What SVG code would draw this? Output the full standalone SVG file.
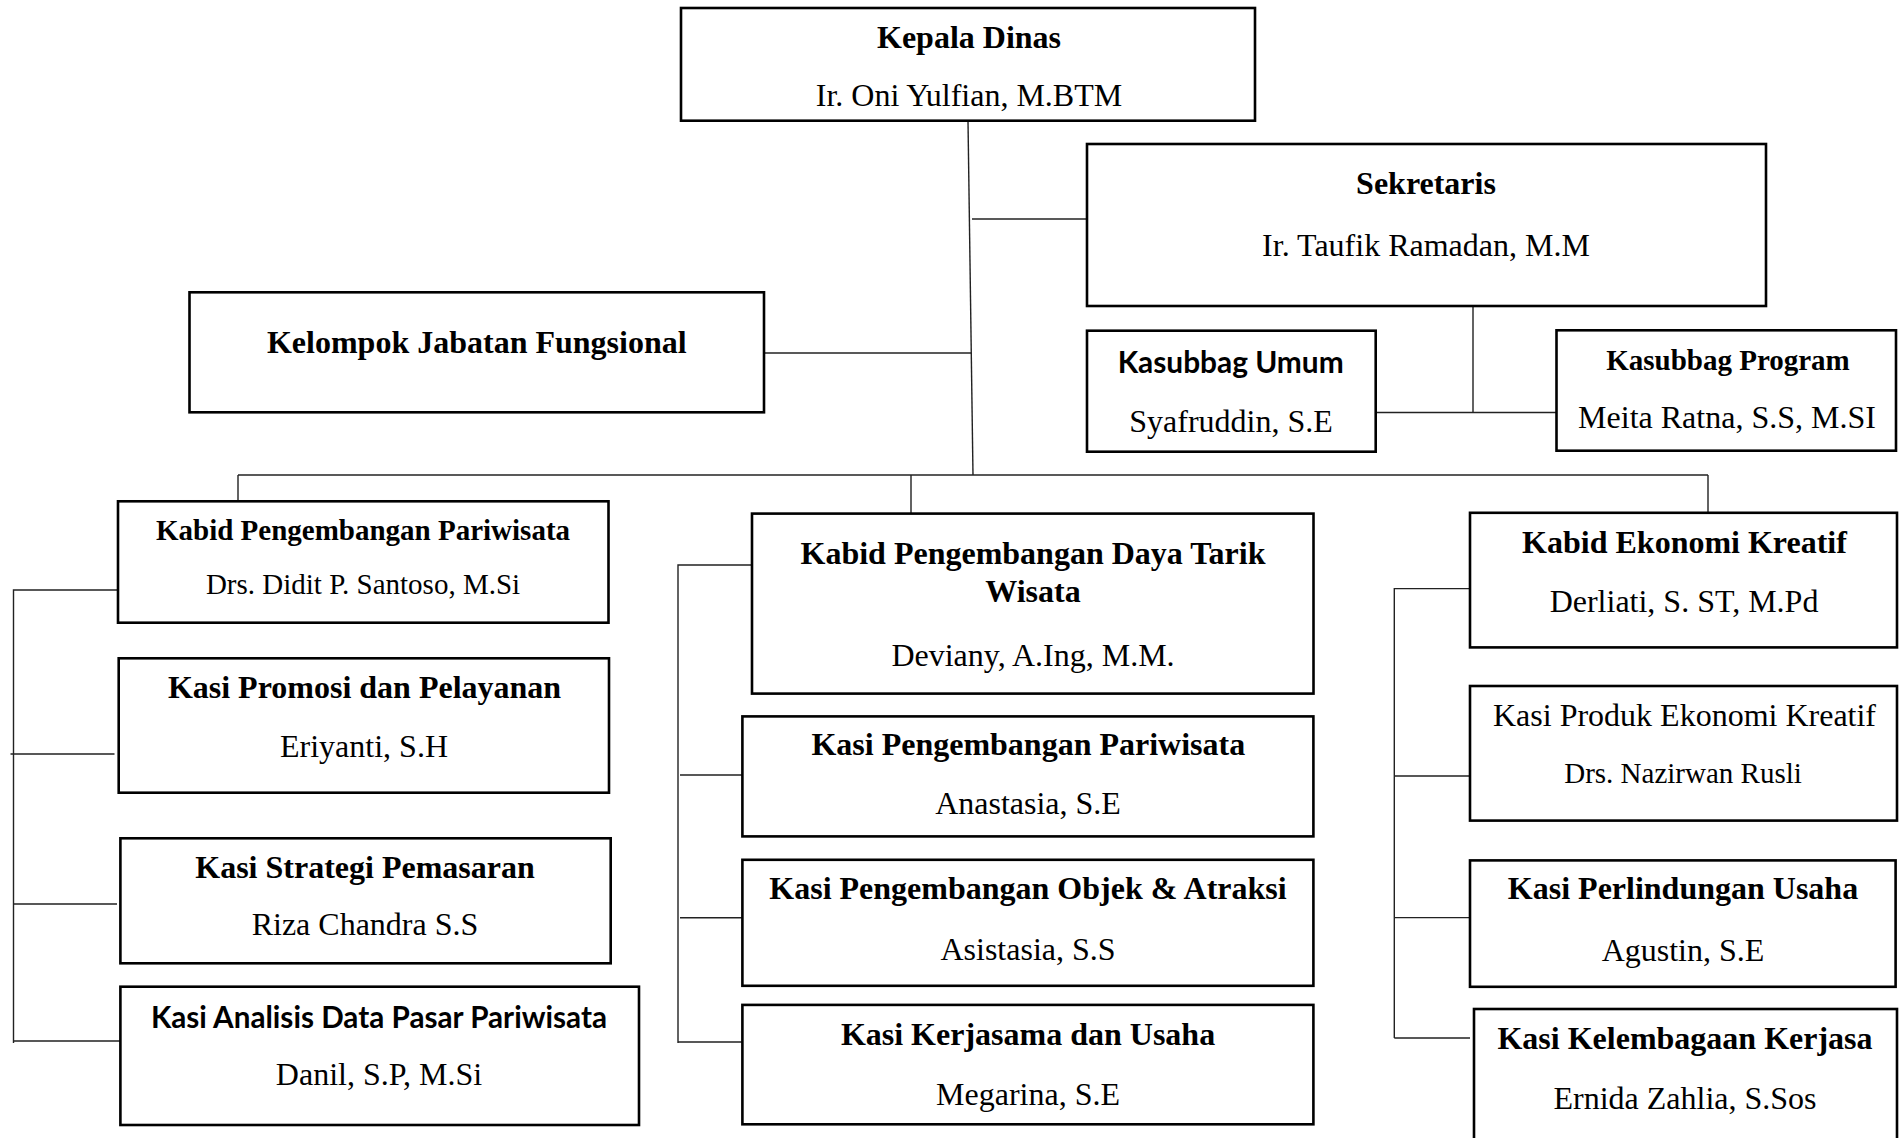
<svg xmlns="http://www.w3.org/2000/svg" width="1899" height="1138" viewBox="0 0 1899 1138">
<style>
.box{fill:#fff;stroke:#000;stroke-width:2.6}
.con{fill:none;stroke:#222;stroke-width:1.4}
.t{font-family:"Liberation Serif","Times New Roman",serif;font-weight:bold;font-size:32px;text-anchor:middle;fill:#000}
.n{font-family:"Liberation Serif","Times New Roman",serif;font-size:32px;text-anchor:middle;fill:#000}
.s{font-family:Lato,"Open Sans",sans-serif;font-weight:bold;font-size:30px;text-anchor:middle;fill:#000}
.sm{font-size:29px}
</style>
<rect width="1899" height="1138" fill="#fff"/>
<g id="connectors">
<path class="con" d="M968,121 L973,475"/>
<path class="con" d="M765,353 H971"/>
<path class="con" d="M972,219 H1087"/>
<path class="con" d="M238,475 H1708"/>
<path class="con" d="M238,475 V501 M911,475 V513 M1708,475 V513"/>
<path class="con" d="M1473,306 V412.5 M1376,412.5 H1556"/>
<path class="con" d="M118,590 H13.5 V1043 M10.5,754 H114.5 M13.5,904 H117 M13.5,1041 H120"/>
<path class="con" d="M752,565 H678 V1043 M680,775 H742 M680,917.7 H742 M678,1042 H742"/>
<path class="con" d="M1470,588.6 H1394.3 V1038 M1394.3,776 H1470 M1394.3,917.6 H1472 M1394.3,1038 H1470"/>
</g>
<g id="kepala-dinas">
<rect class="box" x="681" y="8" width="574" height="112.7"/>
<text class="t" x="969" y="48.3">Kepala Dinas</text>
<text class="n" x="969" y="106">Ir. Oni Yulfian, M.BTM</text>
</g>
<g id="sekretaris">
<rect class="box" x="1087" y="144" width="679" height="162"/>
<text class="t" x="1426" y="194">Sekretaris</text>
<text class="n" x="1426" y="256">Ir. Taufik Ramadan, M.M</text>
</g>
<g id="kelompok-jabatan-fungsional">
<rect class="box" x="189.5" y="292.3" width="574.5" height="120"/>
<text class="t" x="476.8" y="352.7">Kelompok Jabatan Fungsional</text>
</g>
<g id="kasubbag-umum">
<rect class="box" x="1087" y="330.7" width="288.7" height="121"/>
<text class="s" x="1230.7" y="373" textLength="226" lengthAdjust="spacingAndGlyphs">Kasubbag Umum</text>
<text class="n" x="1231" y="431.7">Syafruddin, S.E</text>
</g>
<g id="kasubbag-program">
<rect class="box" x="1556.5" y="330.3" width="339.5" height="120.4"/>
<text class="t sm" x="1728" y="370">Kasubbag Program</text>
<text class="n" x="1727" y="428.3">Meita Ratna, S.S, M.SI</text>
</g>
<g id="kabid-pengembangan-pariwisata">
<rect class="box" x="118" y="501.3" width="490.5" height="121.4"/>
<text class="t sm" x="363" y="540">Kabid Pengembangan Pariwisata</text>
<text class="n sm" x="363" y="594.3">Drs. Didit P. Santoso, M.Si</text>
</g>
<g id="kasi-promosi">
<rect class="box" x="118.7" y="658.3" width="490.3" height="134.4"/>
<text class="t" x="364.5" y="698.3">Kasi Promosi dan Pelayanan</text>
<text class="n" x="364" y="756.7">Eriyanti, S.H</text>
</g>
<g id="kasi-strategi">
<rect class="box" x="120.4" y="838.3" width="490.3" height="125"/>
<text class="t" x="365" y="877.7">Kasi Strategi Pemasaran</text>
<text class="n" x="365" y="935">Riza Chandra S.S</text>
</g>
<g id="kasi-analisis">
<rect class="box" x="120.4" y="986.7" width="518.6" height="138.3"/>
<text class="s" x="379" y="1028.3" textLength="456" lengthAdjust="spacingAndGlyphs">Kasi Analisis Data Pasar Pariwisata</text>
<text class="n" x="379" y="1085">Danil, S.P, M.Si</text>
</g>
<g id="kabid-daya-tarik-wisata">
<rect class="box" x="752" y="513.6" width="561.5" height="180"/>
<text class="t" x="1033" y="564.4">Kabid Pengembangan Daya Tarik</text>
<text class="t" x="1033" y="602.4">Wisata</text>
<text class="n" x="1033" y="665.6">Deviany, A.Ing, M.M.</text>
</g>
<g id="kasi-pengembangan-pariwisata">
<rect class="box" x="742.4" y="716.4" width="571" height="120"/>
<text class="t" x="1028.3" y="754.5">Kasi Pengembangan Pariwisata</text>
<text class="n" x="1028" y="814.4">Anastasia, S.E</text>
</g>
<g id="kasi-objek-atraksi">
<rect class="box" x="742.4" y="859.8" width="571" height="126"/>
<text class="t" x="1028" y="899">Kasi Pengembangan Objek &amp; Atraksi</text>
<text class="n" x="1028" y="960">Asistasia, S.S</text>
</g>
<g id="kasi-kerjasama">
<rect class="box" x="742.4" y="1004.9" width="571" height="119.4"/>
<text class="t" x="1028" y="1044.5">Kasi Kerjasama dan Usaha</text>
<text class="n" x="1028" y="1104.9">Megarina, S.E</text>
</g>
<g id="kabid-ekonomi-kreatif">
<rect class="box" x="1470" y="512.8" width="427" height="134.6"/>
<text class="t" x="1684.5" y="553">Kabid Ekonomi Kreatif</text>
<text class="n" x="1684" y="611.5">Derliati, S. ST, M.Pd</text>
</g>
<g id="kasi-produk">
<rect class="box" x="1470" y="686" width="427" height="134.6"/>
<text class="n" x="1684.5" y="726.2">Kasi Produk Ekonomi Kreatif</text>
<text class="n sm" x="1683" y="782.5">Drs. Nazirwan Rusli</text>
</g>
<g id="kasi-perlindungan">
<rect class="box" x="1470" y="860.4" width="425.6" height="126.4"/>
<text class="t" x="1683" y="899.4">Kasi Perlindungan Usaha</text>
<text class="n" x="1683" y="960.9">Agustin, S.E</text>
</g>
<g id="kasi-kelembagaan">
<rect class="box" x="1474" y="1009" width="423" height="200"/>
<text class="t" x="1685" y="1048.7">Kasi Kelembagaan Kerjasa</text>
<text class="n" x="1685" y="1109.4">Ernida Zahlia, S.Sos</text>
</g>
</svg>
